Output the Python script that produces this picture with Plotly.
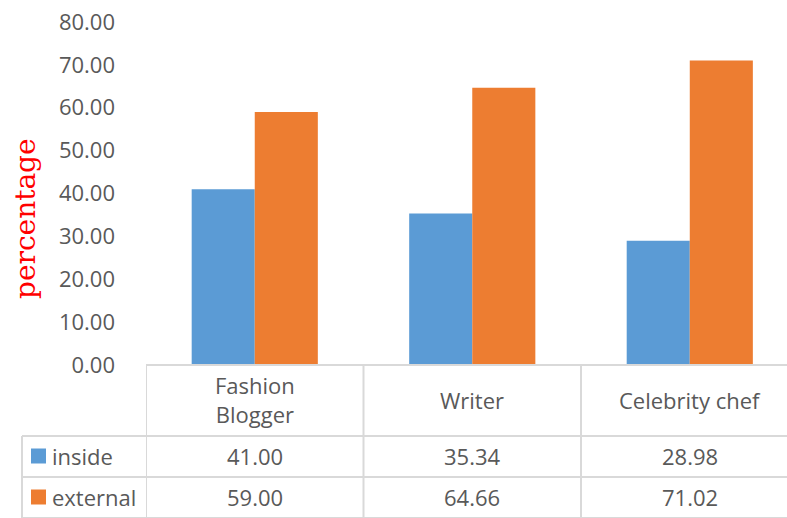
import plotly.graph_objects as go

categories = ["Fashion<br>Blogger", "Writer", "Celebrity chef"]
inside = [41.00, 35.34, 28.98]
external = [59.00, 64.66, 71.02]
series_names = ["inside", "external"]
colors = ["#5B9BD5", "#ED7D31"]
y_ticks = [0, 10, 20, 30, 40, 50, 60, 70, 80]

W, H = 787, 518
L, R, T, B = 146, 0, 22, 153
PW, PH = W - L - R, H - T - B

def px_y(py):
    return (H - B - py) / PH

def px_x(px):
    return (px - L) / PW

xs = [0, 1, 2]
fig = go.Figure()
fig.add_trace(go.Bar(x=xs, y=inside, name=series_names[0], marker=dict(color=colors[0], line=dict(width=0))))
fig.add_trace(go.Bar(x=xs, y=external, name=series_names[1], marker=dict(color=colors[1], line=dict(width=0))))

grid = "#D9D9D9"
font = "Open Sans"
fs = 22
txt = "#595959"
shapes = []
annotations = []

# table lines
shapes.append(dict(type="line", xref="paper", yref="paper", x0=0, x1=1, y0=0, y1=0, line=dict(color=grid, width=2)))
for py in [436, 477, 518]:
    shapes.append(dict(type="line", xref="paper", yref="paper", x0=px_x(22), x1=1, y0=px_y(py), y1=px_y(py), line=dict(color=grid, width=2)))
shapes.append(dict(type="line", xref="paper", yref="paper", x0=px_x(22), x1=px_x(22), y0=px_y(436), y1=px_y(518), line=dict(color=grid, width=2)))
for xv in [-0.5, 0.5, 1.5]:
    shapes.append(dict(type="line", xref="x", yref="paper", x0=xv, x1=xv, y0=0, y1=px_y(518), line=dict(color=grid, width=2)))

# category labels
for i, c in enumerate(categories):
    annotations.append(dict(x=xs[i], y=px_y(400), xref="x", yref="paper", text=c, showarrow=False,
                            xanchor="center", yanchor="middle",
                            font=dict(family=font, size=fs, color=txt), align="center"))
# values
for row, (vals, py) in enumerate([(inside, 456), (external, 497)]):
    for i, v in enumerate(vals):
        annotations.append(dict(x=xs[i], y=px_y(py), xref="x", yref="paper", text=f"{v:.2f}", showarrow=False,
                                xanchor="center", yanchor="middle",
                                font=dict(family=font, size=fs, color=txt)))
    shapes.append(dict(type="rect", xref="paper", yref="paper", x0=px_x(31), x1=px_x(46),
                       y0=px_y(py + 7.5), y1=px_y(py - 7.5), fillcolor=colors[row], line=dict(width=0)))
    annotations.append(dict(x=px_x(50), y=px_y(py), xref="paper", yref="paper", text=series_names[row], showarrow=False,
                            xanchor="left", yanchor="middle", font=dict(family=font, size=fs, color=txt)))

# y-axis title
annotations.append(dict(x=px_x(25), y=px_y(219), xref="paper", yref="paper", text="percentage", showarrow=False,
                        xanchor="center", yanchor="middle",
                        textangle=-90, font=dict(family="DejaVu Serif", size=28, color="#FF0000")))

fig.update_layout(
    width=W, height=H,
    margin=dict(l=L, r=R, t=T, b=B),
    paper_bgcolor="white", plot_bgcolor="white",
    barmode="group", bargap=0.42, bargroupgap=0,
    showlegend=False,
    xaxis=dict(range=[-0.5, 2.447], showticklabels=False, showgrid=False, zeroline=False, showline=False, fixedrange=True),
    yaxis=dict(range=[0, 80], tickvals=y_ticks, ticktext=[f"{v:.2f}" for v in y_ticks], showgrid=False, zeroline=False,
               showline=False, ticks="", ticklabelstandoff=30, tickfont=dict(family=font, size=fs, color=txt)),
    shapes=shapes, annotations=annotations,
)

fig.write_html("out.html", config={"displayModeBar": False},
               post_script="document.body.style.margin='0px';")
